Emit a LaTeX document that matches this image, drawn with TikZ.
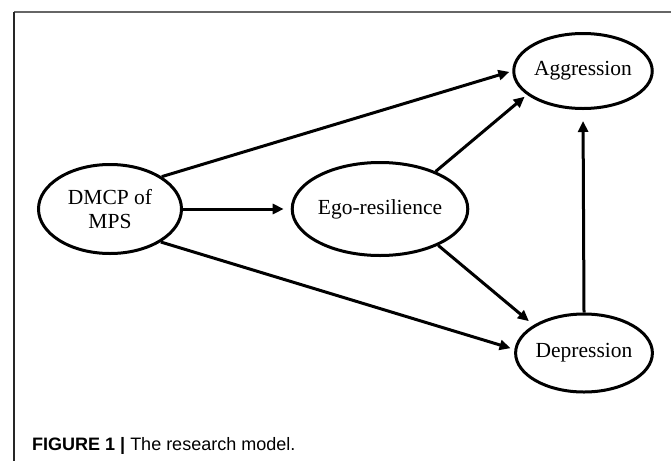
\documentclass[tikz,border=0pt]{standalone}
\usepackage{fontspec}
\setmainfont{Liberation Serif}
\newfontfamily\capsans{Liberation Sans}
\usetikzlibrary{arrows.meta,shapes.geometric}
\tikzset{
  construct/.style={ellipse, draw=black, line width=3pt, inner sep=0pt,
    font=\fontsize{21.5}{24}\selectfont, align=center},
  path/.style={line width=3pt, -{Triangle[length=11pt,width=10pt]}},
  framel/.style={line width=1.4pt}
}
\begin{document}
\begin{tikzpicture}[x=1pt,y=-1pt]
\useasboundingbox (0,0) rectangle (671,461);
% frame (top and left only)
\coordinate (c0) at (14,12);
\coordinate (c1) at (671,12);
\coordinate (c2) at (14,461);
\draw[framel, black!60] (c0) -- (c1);
\draw[framel, black!85] (c0) -- (c2);
% constructs
\node[construct, minimum width=143pt, minimum height=89pt] (dmcp) at (110,209) {DMCP of\\MPS};
\node[construct, minimum width=137pt, minimum height=93pt] (ego) at (380,209) {Ego-resilience};
\node[construct, minimum width=120pt, minimum height=75pt] (aggr) at (583,71) {Aggression};
\node[construct, minimum width=119pt, minimum height=78pt] (dep) at (584,353) {Depression};
% paths
\draw[path, shorten >=3pt] (dmcp.32) -- (aggr.180);
\draw[path, shorten >=7pt] (dmcp.east) -- (ego.west);
\draw[path, shorten >=4pt] (dmcp.-33) -- (dep.177);
\draw[path, shorten >=3pt] (ego.34) -- (aggr.203);
\draw[path, shorten >=6pt] (ego.-32) -- (dep.151);
\draw[path, shorten >=11pt] (dep.north) -- (aggr.south);
% caption
\node[anchor=base west, inner sep=0pt, font=\capsans\fontsize{18}{20}\selectfont] (cap) at (32,450)
  {\textbf{FIGURE 1 |} The research model.};
\end{tikzpicture}
\end{document}
